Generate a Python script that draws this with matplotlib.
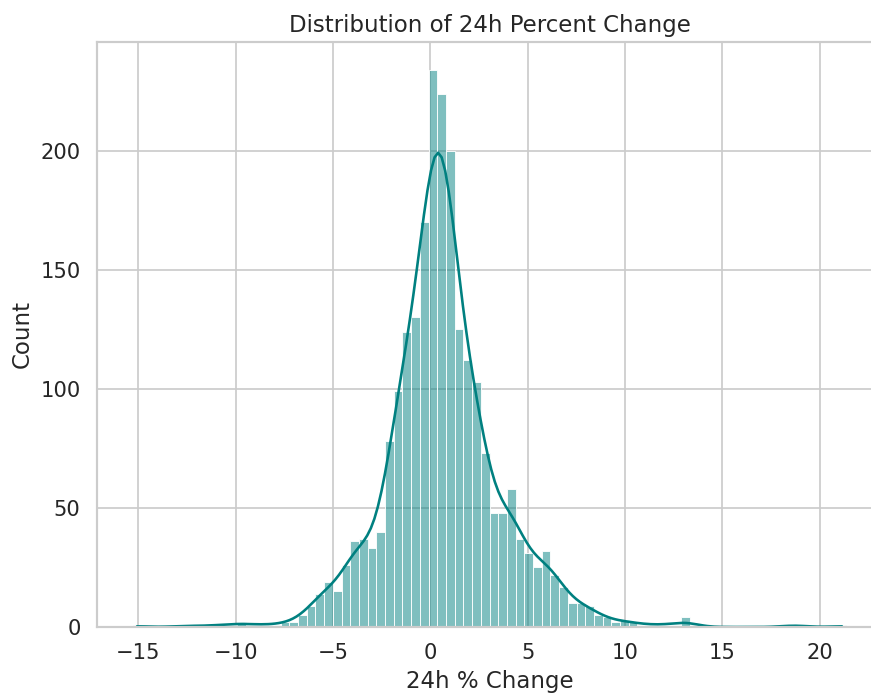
import numpy as np
import pandas as pd
import seaborn as sns
from matplotlib import pyplot as plt

# Histogram counts (one value per bin, left to right)
counts = [1, 0, 0, 0, 0, 1, 0, 1, 0, 1,
          1, 1, 2, 1, 1, 1, 1, 2, 2, 5,
          9, 14, 19, 15, 26, 36, 37, 33, 40, 78,
          99, 124, 130, 170, 234, 224, 200, 125, 112, 103,
          73, 48, 48, 58, 37, 31, 25, 32, 22, 17,
          10, 10, 9, 5, 4, 2, 3, 2, 1, 1,
          1, 1, 1, 4, 1, 0, 0, 0, 0, 0,
          0, 0, 0, 0, 0, 1, 1, 0, 0, 0,
          0, 1]

# Bin layout (24h % change)
bin_start = -15.288
bin_width = 0.447

edges = bin_start + bin_width * np.arange(len(counts) + 1)
centers = edges[:-1] + bin_width / 2

# one row per counted coin, placed at its bin centre
df = pd.DataFrame({"change": np.repeat(centers, counts)})

sns.set_theme(style="whitegrid", font_scale=1.1)

fig = plt.figure(figsize=(871 / 125, 698 / 125), dpi=125)
# the axes runs a little past the right edge of the picture, as in the original
ax = fig.add_axes([97 / 871, 1 - 627 / 698, 785 / 871, 585 / 698])

# Histogram with KDE overlay
sns.histplot(data=df, x="change", bins=list(edges), kde=True, color="teal", ax=ax)

ax.set_title("Distribution of 24h Percent Change")
ax.set_xlabel("24h % Change")
ax.set_ylabel("Count")

fig.savefig("out.png", dpi=125)
